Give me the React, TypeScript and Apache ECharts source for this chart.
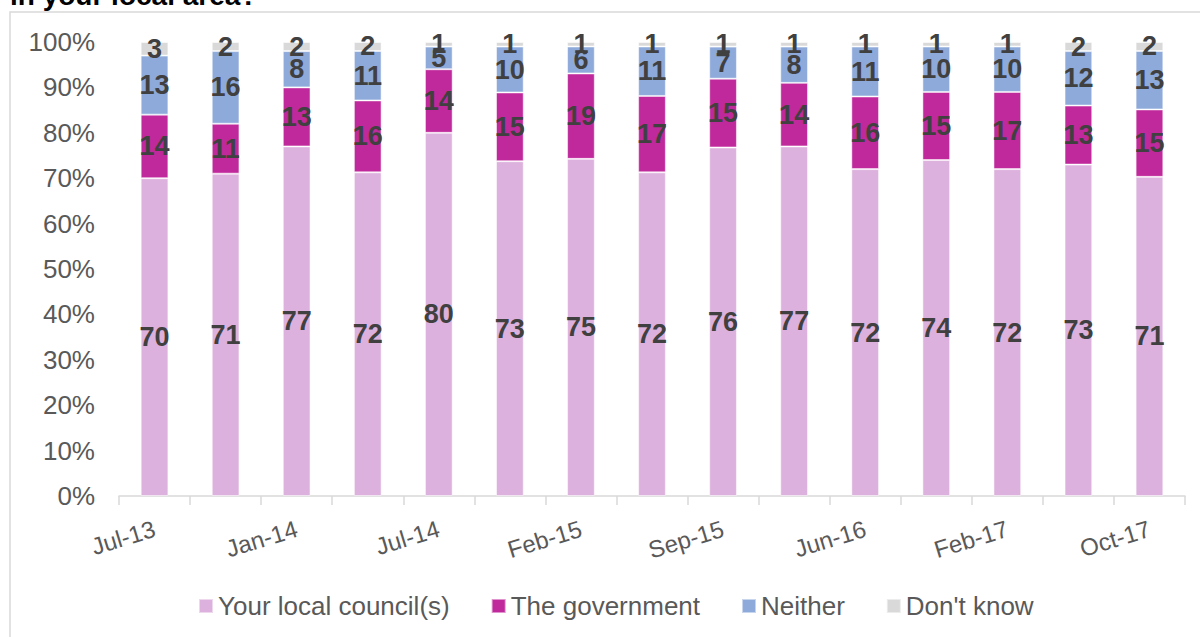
import React, { useEffect, useRef } from "react";
import * as echarts from "echarts";

const categories = [
  "Jul-13", "Oct-13", "Jan-14", "Apr-14", "Jul-14", "Nov-14", "Feb-15", "Jun-15",
  "Sep-15", "Mar-16", "Jun-16", "Sep-16", "Feb-17", "Jun-17", "Oct-17",
];
const localCouncil = [70, 71, 77, 72, 80, 73, 75, 72, 76, 77, 72, 74, 72, 73, 71];
const government = [14, 11, 13, 16, 14, 15, 19, 17, 15, 14, 16, 15, 17, 13, 15];
const neither = [13, 16, 8, 11, 5, 10, 6, 11, 7, 8, 11, 10, 10, 12, 13];
const dontKnow = [3, 2, 2, 2, 1, 1, 1, 1, 1, 1, 1, 1, 1, 2, 2];
const yTicks = [0, 10, 20, 30, 40, 50, 60, 70, 80, 90, 100];

const seriesNames = ["Your local council(s)", "The government", "Neither", "Don't know"];
const seriesValues = [localCouncil, government, neither, dontKnow];
const seriesColors = ["#DDB1DD", "#C0299C", "#8EAADB", "#D9D9D9"];

const FONT = "'Liberation Sans', Arial, sans-serif";

export default function App() {
  const ref = useRef<HTMLDivElement>(null);
  useEffect(() => {
    document.body.style.margin = "0";
    if (!ref.current) return;
    const chart = echarts.init(ref.current, undefined, { renderer: "svg" });
    // 100% stacked: each column's shares are scaled to its total
    const totals = categories.map((_, i) =>
      seriesValues.reduce((s, arr) => s + arr[i], 0)
    );
    chart.setOption({
      animation: false,
      textStyle: { fontFamily: FONT },
      graphic: [
        {
          type: "rect",
          z: -1,
          shape: { x: 10, y: 12, width: 1300, height: 700 },
          style: { fill: "none", stroke: "#D9D9D9", lineWidth: 1.5 },
        },
        {
          type: "text",
          x: 10,
          y: -5,
          style: {
            text: "in your local area?",
            font: `bold 28px ${FONT}`,
            fill: "#000",
            verticalAlign: "middle",
          },
        },
      ],
      legend: {
        bottom: 13,
        left: 193,
        icon: "rect",
        itemWidth: 14,
        itemHeight: 14,
        itemGap: 41,
        textStyle: { fontSize: 26, color: "#595959", fontFamily: FONT },
        data: seriesNames,
      },
      grid: { left: 119, right: 15, top: 42, bottom: 141 },
      xAxis: {
        type: "category",
        data: categories,
        axisLine: { lineStyle: { color: "#D9D9D9", width: 1.5 } },
        axisTick: { show: true, interval: 0, length: 9, lineStyle: { color: "#D9D9D9", width: 1.5 } },
        axisLabel: {
          interval: 1,
          rotate: 17,
          margin: 32,
          fontSize: 24,
          color: "#595959",
          fontFamily: FONT,
        },
      },
      yAxis: {
        type: "value",
        min: yTicks[0],
        max: yTicks[yTicks.length - 1],
        interval: yTicks[1] - yTicks[0],
        axisLine: { show: false },
        axisTick: { show: false },
        splitLine: { show: false },
        axisLabel: {
          formatter: "{value}%",
          fontSize: 26,
          color: "#595959",
          margin: 24,
          fontFamily: FONT,
        },
      },
      series: seriesNames.map((name, si) => ({
        name,
        type: "bar",
        stack: "total",
        barWidth: "39%",
        itemStyle: { color: seriesColors[si], borderColor: "rgba(255,255,255,0.5)", borderWidth: 1 },
        label: {
          show: true,
          position: "inside",
          fontSize: 27,
          fontWeight: "bold",
          color: "#404040",
          fontFamily: FONT,
          formatter: (p: any) => String(seriesValues[si][p.dataIndex]),
        },
        data: seriesValues[si].map((v, i) => (v / totals[i]) * 100),
      })),
    });
    return () => chart.dispose();
  }, []);
  return <div ref={ref} style={{ width: 1200, height: 637 }} />;
}
